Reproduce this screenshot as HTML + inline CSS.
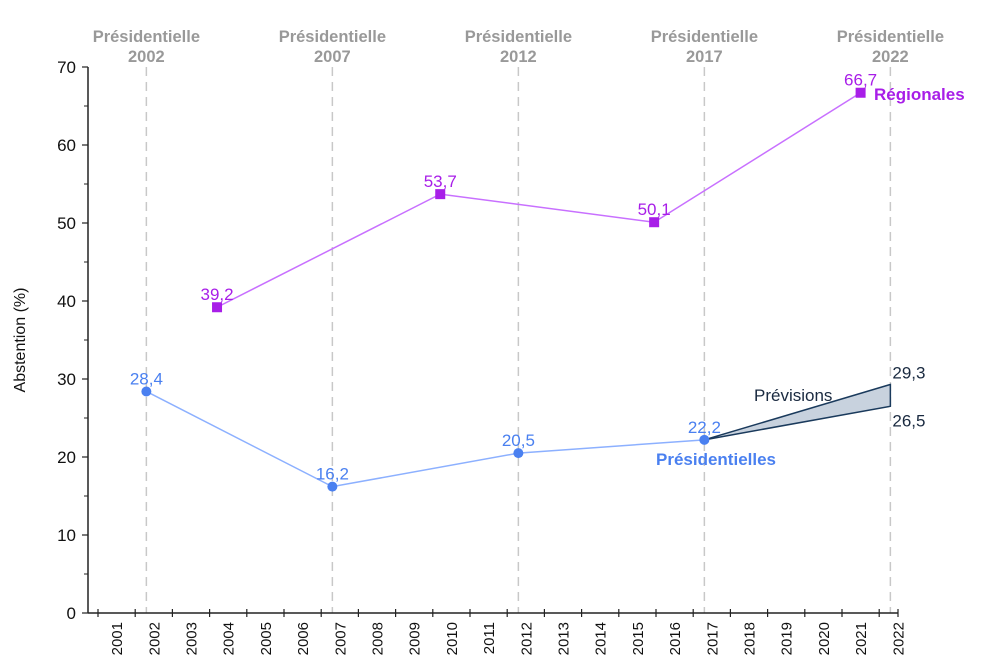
<!DOCTYPE html>
<html><head><meta charset="utf-8"><style>
html,body{margin:0;padding:0;background:#fff;}
svg{display:block;font-family:"Liberation Sans",sans-serif;}
</style></head><body>
<svg id="chart" width="1000" height="667" viewBox="0 0 1000 667"></svg>
<script>
const presYears = [2002.3, 2007.3, 2012.3, 2017.3];
const presValues = [28.4, 16.2, 20.5, 22.2];
const regYears = [2004.2, 2010.2, 2015.95, 2021.5];
const regValues = [39.2, 53.7, 50.1, 66.7];
const forecastYear = 2022.3;
const forecastLow = 26.5;
const forecastHigh = 29.3;
const elections = ["2002", "2007", "2012", "2017", "2022"];
const electionYears = [2002.3, 2007.3, 2012.3, 2017.3, 2022.3];
const yTicks = [0, 10, 20, 30, 40, 50, 60, 70];
const xYears = [2001,2002,2003,2004,2005,2006,2007,2008,2009,2010,2011,2012,2013,2014,2015,2016,2017,2018,2019,2020,2021,2022];

const svg = document.getElementById('chart');
const NS = 'http://www.w3.org/2000/svg';
const X = t => 98 + (t - 2001) * 37.2;
const Y = v => 613 - v * 7.8;
function mk(tag, attrs, parent) {
  const e = document.createElementNS(NS, tag);
  for (const k in attrs) e.setAttribute(k, attrs[k]);
  (parent || svg).appendChild(e);
  return e;
}
function txt(s, attrs) { const e = mk('text', attrs); e.textContent = s; return e; }

electionYears.forEach((t, i) => {
  const l = mk('line', {x1: X(t), x2: X(t), y1: 67, y2: 613, stroke: '#c8c8c8', 'stroke-width': 1.5, 'stroke-dasharray': '9,6'});
  
  
  const h1 = txt('Présidentielle', {x: X(t), y: 42, 'text-anchor': 'middle', 'font-size': 16.5, 'font-weight': 'bold', fill: '#999'});
  
  
  const h2 = txt(elections[i], {x: X(t), y: 62, 'text-anchor': 'middle', 'font-size': 16.5, 'font-weight': 'bold', fill: '#999'});
  
  
});

const ya = mk('line', {x1: 88, x2: 88, y1: 67, y2: 613, stroke: '#222', 'stroke-width': 1.5});


const xa = mk('line', {x1: 88, x2: 898, y1: 613, y2: 613, stroke: '#222', 'stroke-width': 1.5});


yTicks.forEach(v => {
  mk('line', {x1: 82, x2: 88, y1: Y(v), y2: Y(v), stroke: '#222', 'stroke-width': 1.2});
  if (v < 70) mk('line', {x1: 84, x2: 88, y1: Y(v + 5), y2: Y(v + 5), stroke: '#222', 'stroke-width': 1});
  const t = txt(String(v), {x: 76, y: Y(v) + 6, 'text-anchor': 'end', 'font-size': 17, fill: '#111'});
  
  
});
const yt = txt('Abstention (%)', {transform: 'translate(25,340) rotate(-90)', 'text-anchor': 'middle', 'font-size': 16, fill: '#111'});


xYears.forEach(y => {
  mk('line', {x1: X(y), x2: X(y), y1: 609, y2: 617, stroke: '#222', 'stroke-width': 1.2});
  const t = txt(String(y), {transform: 'translate(' + (X(y + 0.5) + 5.5) + ',622) rotate(-90)', 'text-anchor': 'end', 'font-size': 15, fill: '#111'});
  
  
});
mk('line', {x1: 898, x2: 898, y1: 609, y2: 617, stroke: '#222', 'stroke-width': 1.2});

const lastX = X(presYears[presYears.length - 1]), lastY = Y(presValues[presValues.length - 1]);
const fp = mk('polygon', {points: lastX + ',' + lastY + ' ' + X(forecastYear) + ',' + Y(forecastHigh) + ' ' + X(forecastYear) + ',' + Y(forecastLow), fill: '#c8d2de', stroke: '#1a3a5c', 'stroke-width': 1.5});


const f1 = txt(String(forecastHigh).replace('.', ','), {x: X(forecastYear) + 2, y: Y(forecastHigh) - 6, 'font-size': 17, fill: '#1a2a40'});


const f2 = txt(String(forecastLow).replace('.', ','), {x: X(forecastYear) + 2, y: Y(forecastLow) + 20, 'font-size': 17, fill: '#1a2a40'});


const fl = txt('Prévisions', {x: 754, y: 401, 'font-size': 17, fill: '#1a2a40'});



function series(xs, vs, lineCol, markCol, square, name) {
  const pl = mk('polyline', {points: xs.map((t, i) => X(t) + ',' + Y(vs[i])).join(' '), fill: 'none', stroke: lineCol, 'stroke-width': 1.5});
  
  
  xs.forEach((t, i) => {
    const m = square ? mk('rect', {x: X(t) - 5, y: Y(vs[i]) - 5, width: 10, height: 10, fill: markCol})
                     : mk('circle', {cx: X(t), cy: Y(vs[i]), r: 5, fill: markCol});
    
    
    const l = txt(String(vs[i]).replace('.', ','), {x: X(t), y: Y(vs[i]) - 7, 'text-anchor': 'middle', 'font-size': 17, fill: markCol});
    
    
  });
}
series(regYears, regValues, '#c870ff', '#a81ee8', true, 'regionales');
series(presYears, presValues, '#8cb0ff', '#4a80f0', false, 'presidentielles');
const rl = txt('Régionales', {x: 874, y: 100, 'font-size': 17, 'font-weight': 'bold', fill: '#a81ee8'});


const pl2 = txt('Présidentielles', {x: 656, y: 465, 'font-size': 17, 'font-weight': 'bold', fill: '#4a80f0'});


</script>
</body></html>
